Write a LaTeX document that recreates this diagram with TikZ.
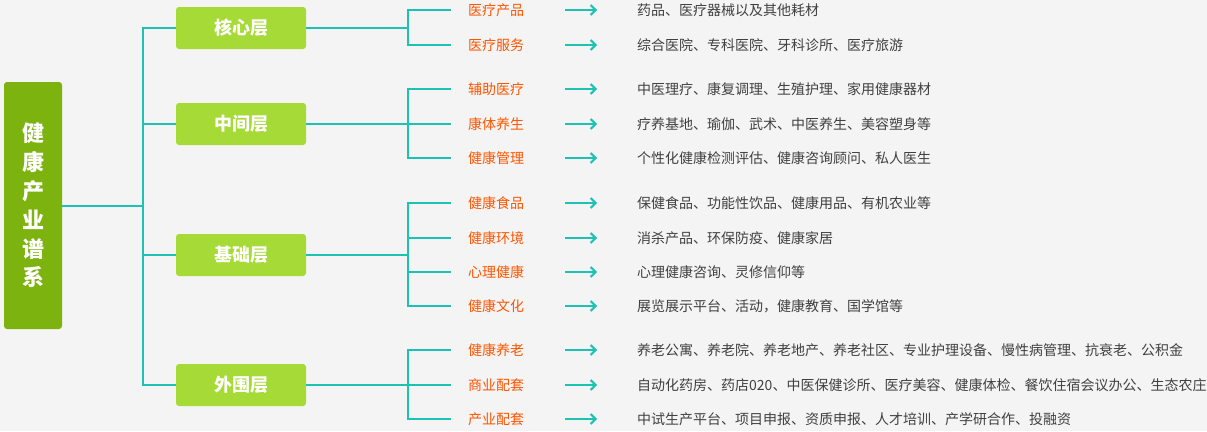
\documentclass[tikz,border=0pt]{standalone}
\usepackage{fontspec}
\setmainfont{Noto Sans CJK SC}
\usetikzlibrary{arrows.meta}
\definecolor{bgc}{HTML}{F4F4F4}
\definecolor{rootc}{HTML}{7DB30F}
\definecolor{levc}{HTML}{A6DA36}
\definecolor{tealc}{HTML}{1CC3B2}
\definecolor{labc}{HTML}{FF5500}
\definecolor{descc}{HTML}{404040}
\tikzset{
  rootbox/.style={fill=rootc, rounded corners=3pt, minimum width=58pt, minimum height=247pt, inner sep=0pt, text=white, align=center, font=\fontsize{22}{28.8}\selectfont\bfseries},
  levbox/.style={fill=levc, rounded corners=3pt, minimum width=130pt, minimum height=42pt, inner sep=0pt, text=white, font=\fontsize{18}{20}\selectfont\bfseries},
  lab/.style={anchor=west, inner sep=0pt, text=labc, font=\fontsize{14}{16}\selectfont},
  desc/.style={anchor=west, inner sep=0pt, text=descc, font=\fontsize{14}{16}\selectfont},
  tl/.style={draw=tealc, line width=2pt},
  arr/.style={draw=tealc, line width=2pt, -{Straight Barb[length=5pt,width=10pt,line width=2pt]}, shorten <=41pt, shorten >=40pt}
}
\begin{document}
\begin{tikzpicture}[x=1pt,y=-1pt]
\fill[bgc] (0,0) rectangle (1207,431);
\useasboundingbox (0,0) rectangle (1207,431);
\node[rootbox] (root) at (33,205.5) {健\\康\\产\\业\\谱\\系};
\node[levbox] (L1) at (241,28) {核心层};
\node[levbox] (L2) at (241,124) {中间层};
\node[levbox] (L3) at (241,255) {基础层};
\node[levbox] (L4) at (241,385) {外围层};
\coordinate (t) at (143,205.5);
\coordinate (g) at (408,0);
% items
\node[lab] (a1) at (468,10) {医疗产品};
\node[lab] (a2) at (468,45) {医疗服务};
\node[lab] (b1) at (468,89) {辅助医疗};
\node[lab] (b2) at (468,124) {康体养生};
\node[lab] (b3) at (468,158) {健康管理};
\node[lab] (c1) at (468,203) {健康食品};
\node[lab] (c2) at (468,238) {健康环境};
\node[lab] (c3) at (468,272) {心理健康};
\node[lab] (c4) at (468,306) {健康文化};
\node[lab] (e1) at (468,350) {健康养老};
\node[lab] (e2) at (468,385) {商业配套};
\node[lab] (e3) at (468,419) {产业配套};
\node[desc] (da1) at (637,10) {药品、医疗器械以及其他耗材};
\node[desc] (da2) at (637,45) {综合医院、专科医院、牙科诊所、医疗旅游};
\node[desc] (db1) at (637,89) {中医理疗、康复调理、生殖护理、家用健康器材};
\node[desc] (db2) at (637,124) {疗养基地、瑜伽、武术、中医养生、美容塑身等};
\node[desc] (db3) at (637,158) {个性化健康检测评估、健康咨询顾问、私人医生};
\node[desc] (dc1) at (637,203) {保健食品、功能性饮品、健康用品、有机农业等};
\node[desc] (dc2) at (637,238) {消杀产品、环保防疫、健康家居};
\node[desc] (dc3) at (637,272) {心理健康咨询、灵修信仰等};
\node[desc] (dc4) at (637,306) {展览展示平台、活动，健康教育、国学馆等};
\node[desc] (de1) at (637,350) {养老公寓、养老院、养老地产、养老社区、专业护理设备、慢性病管理、抗衰老、公积金};
\node[desc] (de2) at (637,385) {自动化药房、药店020、中医保健诊所、医疗美容、健康体检、餐饮住宿会议办公、生态农庄};
\node[desc] (de3) at (637,419) {中试生产平台、项目申报、资质申报、人才培训、产学研合作、投融资};
% trunk
\draw[tl] (root.east) -- (t);
\draw[tl] (L1.west) -| (t |- L4.west) -- (L4.west);
\draw[tl] (t |- L1.west) -- (t);
\draw[tl] (L2.west) -- (L2.west -| t);
\draw[tl] (L3.west) -- (L3.west -| t);
% group 1
\draw[tl] (L1.east) -- (L1.east -| g);
\draw[tl] ([xshift=-17pt]a1.west) -- (a1.west -| g) -- (a2.west -| g) -- ([xshift=-17pt]a2.west);
% group 2
\draw[tl] (L2.east) -- (L2.east -| g);
\draw[tl] ([xshift=-17pt]b1.west) -- (b1.west -| g) -- (b3.west -| g) -- ([xshift=-17pt]b3.west);
\draw[tl] (b2.west -| g) -- ([xshift=-17pt]b2.west);
% group 3
\draw[tl] (L3.east) -- (L3.east -| g);
\draw[tl] ([xshift=-17pt]c1.west) -- (c1.west -| g) -- (c4.west -| g) -- ([xshift=-17pt]c4.west);
\draw[tl] (c2.west -| g) -- ([xshift=-17pt]c2.west);
\draw[tl] (c3.west -| g) -- ([xshift=-17pt]c3.west);
% group 4
\draw[tl] (L4.east) -- (L4.east -| g);
\draw[tl] ([xshift=-17pt]e1.west) -- (e1.west -| g) -- (e3.west -| g) -- ([xshift=-17pt]e3.west);
\draw[tl] (e2.west -| g) -- ([xshift=-17pt]e2.west);
% arrows
\foreach \p/\q in {a1/da1,a2/da2,b1/db1,b2/db2,b3/db3,c1/dc1,c2/dc2,c3/dc3,c4/dc4,e1/de1,e2/de2,e3/de3}{
  \draw[arr] (\p.east) -- (\q.west);
}
\end{tikzpicture}
\end{document}
